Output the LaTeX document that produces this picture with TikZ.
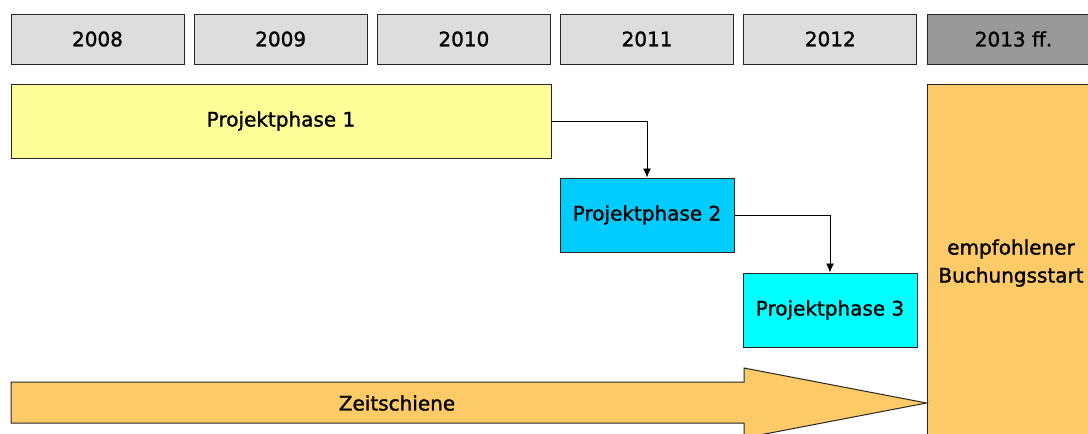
\documentclass[tikz,border=0pt]{standalone}
\usepackage{fontspec}
\setmainfont{DejaVu Sans}[FakeBold=1.3]
\usetikzlibrary{arrows.meta,positioning}

\definecolor{yeargray}{HTML}{DDDDDD}
\definecolor{yeardark}{HTML}{999999}
\definecolor{phaseyellow}{HTML}{FFFF99}
\definecolor{phaseblue}{HTML}{00CCFF}
\definecolor{phasecyan}{HTML}{00FFFF}
\definecolor{startorange}{HTML}{FDCA68}

\begin{document}
\begin{tikzpicture}[x=1pt, y=-1pt, node distance=9.2pt, >={Latex[length=9pt,width=8pt]},
    year/.style={draw=black!85, line width=1pt, fill=yeargray, minimum width=173pt,
      minimum height=50pt, inner sep=0pt, font=\fontsize{20}{24}\selectfont},
    phase/.style={draw=black!85, line width=1pt, minimum height=74pt, inner sep=0pt,
      font=\fontsize{20}{24}\selectfont}]
    \useasboundingbox (0,0) rectangle (1088,434);
    \clip (0,0) rectangle (1088,434);

    \node [year] (y2008) at (97.5,39) {2008};
    \node [year, right=of y2008] (y2009) {2009};
    \node [year, right=of y2009] (y2010) {2010};
    \node [year, right=of y2010] (y2011) {2011};
    \node [year, right=of y2011] (y2012) {2012};
    \node [year, fill=yeardark, right=of y2012] (y2013) {2013 ff.};

    \node [phase, fill=phaseyellow, minimum width=540pt] (p1) at (281,121) {Projektphase 1};
    \node [phase, fill=phaseblue, minimum width=174pt] (p2) at (647,215) {Projektphase 2};
    \node [phase, fill=phasecyan, minimum width=174pt] (p3) at (830,310) {Projektphase 3};
    \node [phase, fill=startorange, minimum width=168pt, minimum height=358pt, align=center,
      font=\fontsize{20}{28}\selectfont] (start) at (1011,263) {empfohlener\\Buchungsstart};

    \draw [->, line width=0.9pt] (p1.east) -| (p2.north);
    \draw [->, line width=0.9pt] (p2.east) -| (p3.north);

    % Zeitschiene
    \draw [draw=black!85, line width=1pt, fill=startorange]
      (11,382) -- (744,382) -- (744,368) -- (start.west |- 0,403) -- (744,438)
      -- (744,423) -- (11,423) -- cycle;
    \node [font=\fontsize{20}{24}\selectfont] (zeit) at (397,403) {Zeitschiene};
\end{tikzpicture}
\end{document}
